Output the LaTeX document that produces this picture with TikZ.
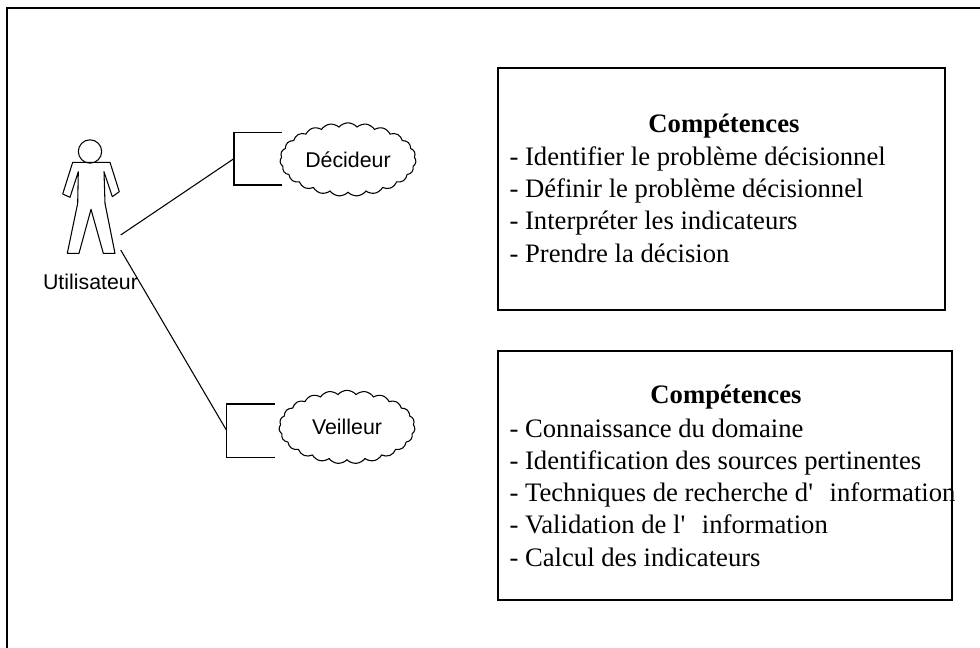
\documentclass[tikz,border=0pt]{standalone}
\usepackage{fontspec}
\setmainfont{Liberation Serif}
\newfontfamily\labelfont{Liberation Sans}
\usetikzlibrary{shapes.symbols}
\tikzset{
    every path/.style={line width=0.8pt},
    skillbox/.style={draw, rectangle, inner sep=0pt},
    skilltext/.style={align=left, anchor=north west, inner sep=0pt, font=\fontsize{20}{24.2}\selectfont},
    skilltitle/.style={inner sep=0pt, font=\fontsize{20}{24.2}\selectfont\bfseries},
    rolecloud/.style={draw, cloud, cloud puffs=23, cloud puff arc=100, aspect=1.85, inner sep=0pt, minimum width=102pt, minimum height=55pt, font=\labelfont\fontsize{16}{18}\selectfont},
}
\begin{document}
\begin{tikzpicture}[x=0.75pt, y=-0.75pt]
        \useasboundingbox (0,0) rectangle (980,648);

        % frame
        \coordinate (frameA) at (980,8);
        \coordinate (frameB) at (7,648);
        \draw (frameA) -| (frameB);

        % actor
        \node[draw, circle, minimum size=17.5pt, inner sep=0pt] (head) at (90,151.5) {};
        \draw[line join=round] (72.7,162.3) -- (62.7,194) -- (70,197.3) -- (78.3,171.7) -- (77.7,203.3)
            -- (67.3,253.3) -- (79,253.3) -- (91,209.3) -- (103.3,253.3) -- (115,253.3) -- (105,203.3)
            -- (104,171.7) -- (112.3,196.7) -- (119.3,191.7) -- (110,162.3) -- cycle;
        \node[font=\labelfont\fontsize{16}{18}\selectfont, inner sep=0pt] (user) at (90.5,282) {Utilisateur};
        \coordinate (userA) at (120.7,235);
        \coordinate (userB) at (120.7,250);

        % roles
        \node[rolecloud] (decideur) at (348,159.5) {D\'ecideur};
        \node[rolecloud] (veilleur) at (347,427) {Veilleur};

        \coordinate (decA) at (282,132.3);
        \coordinate (decB) at (234,158.6);
        \coordinate (decC) at (282,185);
        \draw (decA) -| (decB) |- (decC);
        \coordinate (veiA) at (275,404);
        \coordinate (veiB) at (226.7,430.6);
        \coordinate (veiC) at (275,457.3);
        \draw (veiA) -| (veiB) |- (veiC);

        \draw (userA) -- (decB);
        \draw (userB) -- (veiB);

        % boxes
        \node[skillbox, minimum width=335.25pt, minimum height=181.5pt] (boxdec) at (721.5,189) {};
        \node[skilltitle] (titledec) at (724,126) {Compétences};
        \node[skilltext] (listdec) at (509,146) {- Identifier le problème décisionnel\\- Définir le problème décisionnel\\- Interpréter les indicateurs\\- Prendre la décision};

        \node[skillbox, minimum width=340.5pt, minimum height=186.75pt] (boxvei) at (725,475.5) {};
        \node[skilltitle] (titlevei) at (726,397) {Compétences};
        \node[skilltext] (listvei) at (509,418) {- Connaissance du domaine\\- Identification des sources pertinentes\\- Techniques de recherche d\textquotesingle\hspace{0.62em}information\\- Validation de l\textquotesingle\hspace{0.62em}information\\- Calcul des indicateurs};
\end{tikzpicture}
\end{document}
